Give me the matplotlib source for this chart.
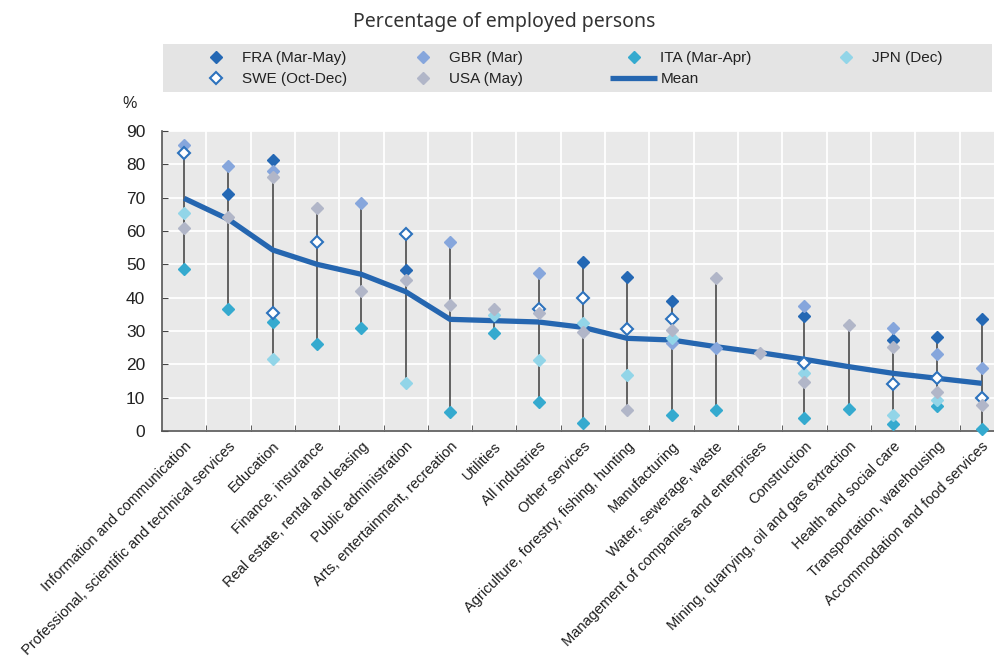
import numpy as np
import matplotlib
matplotlib.use("Agg")
from matplotlib import pyplot as plt
from matplotlib import font_manager
from matplotlib.patches import Rectangle

nan = np.nan

categories = ["Information and communication",
              "Professional, scientific and technical services",
              "Education", "Finance, insurance", "Real estate, rental and leasing",
              "Public administration", "Arts, entertainment, recreation",
              "Utilities", "All industries", "Other services",
              "Agriculture, forestry, fishing, hunting", "Manufacturing",
              "Water, sewerage, waste", "Management of companies and enterprises",
              "Construction", "Mining, quarrying, oil and gas extraction",
              "Health and social care", "Transportation, warehousing",
              "Accommodation and food services"]

fra = [nan, 71.1, 81.4, nan, nan, 48.3, nan, nan, nan, 50.6, 46.1, 39.0, nan, nan, 34.5, nan, 27.3, 28.3, 33.6]
gbr = [85.8, 79.5, 78.0, nan, 68.3, nan, 56.6, nan, 47.3, nan, nan, 26.3, 25.0, nan, 37.5, nan, 30.8, 23.1, 19.0]
ita = [48.6, 36.6, 32.6, 26.0, 31.0, nan, 5.8, 29.5, 8.6, 2.5, nan, 4.8, 6.3, nan, 3.8, 6.6, 2.1, 7.5, 0.6]
jpn = [65.5, nan, 21.5, nan, nan, 14.3, nan, 34.8, 21.3, 32.5, 16.8, 28.0, nan, nan, 17.3, nan, 4.8, 9.3, nan]
swe = [83.4, nan, 35.3, 56.8, nan, 59.1, nan, nan, 36.5, 40.0, 30.6, 33.5, nan, nan, 20.3, nan, 14.0, 15.8, 9.8]
usa = [61.0, 64.2, 76.1, 67.0, 42.0, 45.3, 37.8, 36.6, 35.3, 29.8, 6.3, 30.3, 45.8, 23.5, 14.6, 31.8, 25.3, 11.8, 7.8]
mean = [69.8, 63.5, 54.3, 50.0, 47.0, 41.8, 33.5, 33.1, 32.7, 31.1, 27.8, 27.3, 25.3, 23.5, 21.5, 19.3, 17.3, 15.8, 14.3]

series_labels = ["FRA (Mar-May)", "GBR (Mar)", "ITA (Mar-Apr)", "JPN (Dec)", "SWE (Oct-Dec)", "USA (May)"]


def pick_font(names):
    have = {f.name for f in font_manager.fontManager.ttflist}
    for n in names:
        if n in have:
            return n
    return "DejaVu Sans"


narrow = pick_font(["Liberation Sans Narrow", "Liberation Sans"])
title_font = pick_font(["Noto Sans", "Open Sans"])

fig = plt.figure(figsize=(9.95, 6.57), dpi=100)
ax = fig.add_axes([162 / 995, 1 - 431 / 657, 833 / 995, 300 / 657])
ax.set_facecolor("#e9e9e9")

x = np.arange(len(categories))
data = np.array([fra, gbr, ita, jpn, swe, usa], dtype=float)

# range lines
lo = np.nanmin(data, axis=0)
hi = np.nanmax(data, axis=0)
ax.vlines(x, lo, hi, color="#4a4a4a", lw=1.2, zorder=2)

mean_handle, = ax.plot(x, mean, color="#2566b0", lw=3.8, zorder=3,
                       solid_capstyle="butt", label="Mean")

styles = [
    dict(mfc="#2468b4", mec="#2468b4"),
    dict(mfc="#86a6dc", mec="#86a6dc"),
    dict(mfc="#35aacf", mec="#35aacf"),
    dict(mfc="#92d5e8", mec="#92d5e8"),
    dict(mfc="white", mec="#2d72bd", mew=1.5),
    dict(mfc="#b1b6c8", mec="#b1b6c8"),
]
handles = []
for vals, lab, st in zip(data, series_labels, styles):
    h, = ax.plot(x, vals, ls="none", marker="D", ms=6.5, zorder=4, clip_on=False, label=lab, **st)
    handles.append(h)

ax.set_xlim(-0.5, 18.3)
ax.set_ylim(0, 90)
ax.set_yticks(np.arange(0, 91, 10))
ax.set_xticks(x)
ax.set_xticks(x[:-1] + 0.5, minor=True)
ax.set_xticklabels(categories, rotation=45, ha="right", rotation_mode="anchor",
                   fontsize=10.5, family=narrow, color="#1e1e1e")
ax.tick_params(axis="x", which="major", length=0, pad=6)
ax.tick_params(axis="x", which="minor", direction="in", length=4, color="#444444")
ax.tick_params(axis="y", direction="in", length=4, color="#444444", labelsize=12.5, pad=12)
for t in ax.get_yticklabels():
    t.set_family(narrow)
    t.set_color("#222222")

ax.grid(axis="y", color="white", lw=1.3)
ax.grid(axis="x", which="minor", color="white", lw=1.3)
ax.set_axisbelow(True)
for s in ["top", "right"]:
    ax.spines[s].set_visible(False)
for s in ["left", "bottom"]:
    ax.spines[s].set_color("#555555")
    ax.spines[s].set_linewidth(1.2)

fig.text(130 / 995, 1 - 103 / 657, "%", fontsize=11.5, family=narrow, color="#222222",
         ha="center", va="center")
fig.text(0.507, 1 - 22 / 657, "Percentage of employed persons", fontsize=14,
         family=title_font, color="#333333", ha="center", va="center")

# legend: grey band with four fixed-width columns
fig.patches.append(Rectangle((163 / 995, 1 - 92 / 657), 829 / 995, 48 / 657,
                             transform=fig.transFigure, facecolor="#e4e4e4",
                             edgecolor="none", zorder=0))
columns = [[handles[0], handles[4]], [handles[1], handles[5]],
           [handles[2], mean_handle], [handles[3]]]
col_x = [192, 399, 610, 822]
for hs, cx in zip(columns, col_x):
    leg = fig.legend(hs, [h.get_label() for h in hs], loc="upper left",
                     bbox_to_anchor=(cx / 995, 1 - 51 / 657), frameon=False,
                     borderpad=0, borderaxespad=0, handlelength=3.1,
                     handletextpad=0.2, labelspacing=0.45,
                     prop=dict(family=narrow, size=11))
    for t in leg.get_texts():
        t.set_color("#222222")

fig.savefig("out.png", dpi=100)
